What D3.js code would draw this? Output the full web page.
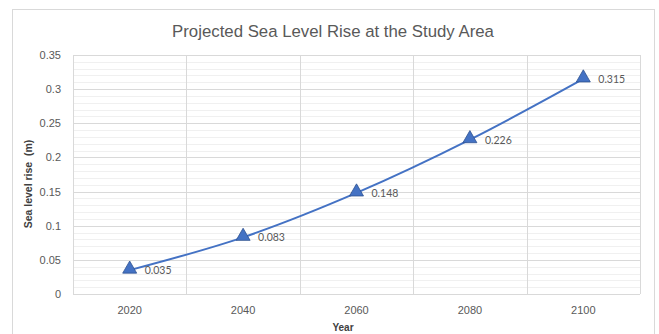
<!DOCTYPE html>
<html>
<head>
<meta charset="utf-8">
<script src="https://cdn.jsdelivr.net/npm/d3@7"></script>
<style>
  html, body { margin: 0; padding: 0; background: #fff; }
  svg { display: block; }
</style>
</head>
<body>
<svg id="chart" width="659" height="334"></svg>
<script>
// Projected sea level rise by year (metres)
const years = ["2020", "2040", "2060", "2080", "2100"];
const seaLevelRise = [0.035, 0.083, 0.148, 0.226, 0.315];
const yTicks = [0, 0.05, 0.1, 0.15, 0.2, 0.25, 0.3, 0.35];
const yMinorTicks = d3.range(0, 0.3501, 0.01);

const svg = d3.select("#chart");
const W = 659, H = 334;
const margin = { left: 73, right: 19, top: 55, bottom: 40 };
const plotW = W - margin.left - margin.right;
const plotH = H - margin.top - margin.bottom;

// Chart frame
svg.append("rect")
  .attr("x", 12.5).attr("y", 9.5)
  .attr("width", 642).attr("height", 340)
  .attr("fill", "#fff").attr("stroke", "#d9d9d9").attr("stroke-width", 1);

const x = d3.scaleBand().domain(years).range([margin.left, margin.left + plotW]);
const y = d3.scaleLinear().domain([0, 0.35]).range([margin.top + plotH, margin.top]);

const g = svg.append("g");

// Minor horizontal gridlines
g.selectAll("line.minor").data(yMinorTicks).enter().append("line")
  .attr("x1", margin.left).attr("x2", margin.left + plotW)
  .attr("y1", d => Math.round(y(d)) + 0.5).attr("y2", d => Math.round(y(d)) + 0.5)
  .attr("stroke", "#f0f0f0").attr("stroke-width", 1);

// Major horizontal gridlines
g.selectAll("line.major").data(yTicks).enter().append("line")
  .attr("x1", margin.left).attr("x2", margin.left + plotW)
  .attr("y1", d => Math.round(y(d)) + 0.5).attr("y2", d => Math.round(y(d)) + 0.5)
  .attr("stroke", "#d9d9d9").attr("stroke-width", 1);

// Vertical gridlines at category boundaries
const bounds = years.map(d => x(d)).concat([margin.left + plotW]);
g.selectAll("line.vert").data(bounds).enter().append("line")
  .attr("x1", d => Math.round(d) + 0.5).attr("x2", d => Math.round(d) + 0.5)
  .attr("y1", margin.top).attr("y2", margin.top + plotH)
  .attr("stroke", "#d9d9d9").attr("stroke-width", 1);

// Y axis
const yAxis = d3.axisLeft(y).tickValues(yTicks).tickSize(0).tickPadding(12)
  .tickFormat(d => d3.format("")(+d.toFixed(2)));
svg.append("g").attr("transform", `translate(${margin.left},0)`).call(yAxis)
  .call(s => s.select(".domain").remove())
  .selectAll("text").attr("font-family", "Liberation Sans, Arial, sans-serif")
  .attr("font-size", 11).attr("fill", "#595959");

// X axis
const xAxis = d3.axisBottom(x).tickSize(0).tickPadding(12);
svg.append("g").attr("transform", `translate(0,${margin.top + plotH})`).call(xAxis)
  .call(s => s.select(".domain").remove())
  .selectAll("text").attr("font-family", "Liberation Sans, Arial, sans-serif")
  .attr("font-size", 11).attr("fill", "#595959");

// Title
svg.append("text")
  .attr("x", 333).attr("y", 37)
  .attr("text-anchor", "middle")
  .attr("font-family", "Liberation Sans, Arial, sans-serif")
  .attr("font-size", 16.8).attr("fill", "#595959")
  .text("Projected Sea Level Rise at the Study Area");

// Axis titles
svg.append("text")
  .attr("transform", `translate(32,${184}) rotate(-90)`)
  .attr("text-anchor", "middle")
  .style("white-space", "pre")
  .attr("font-family", "Liberation Sans, Arial, sans-serif")
  .attr("font-size", 10.5).attr("font-weight", "bold").attr("fill", "#404040")
  .text("Sea level rise  (m)");

svg.append("text")
  .attr("x", 343).attr("y", 331)
  .attr("text-anchor", "middle")
  .attr("font-family", "Liberation Sans, Arial, sans-serif")
  .attr("font-size", 10).attr("font-weight", "bold").attr("fill", "#404040")
  .text("Year");

// Data
const data = years.map((yr, i) => ({ year: yr, value: seaLevelRise[i] }));
const cx = d => x(d.year) + x.bandwidth() / 2;

const line = d3.line().x(cx).y(d => y(d.value)).curve(d3.curveCatmullRom.alpha(0.5));
svg.append("path").datum(data)
  .attr("d", line)
  .attr("fill", "none").attr("stroke", "#4472C4").attr("stroke-width", 2);

const tri = d3.symbol().type(d3.symbolTriangle).size(85);
svg.selectAll("path.marker").data(data).enter().append("path")
  .attr("class", "marker")
  .attr("d", tri)
  .attr("transform", d => `translate(${cx(d)},${y(d.value) - 1})`)
  .attr("fill", "#4472C4").attr("stroke", "#2F528F").attr("stroke-width", 0.8);

// Data labels
svg.selectAll("text.label").data(data).enter().append("text")
  .attr("class", "label")
  .attr("x", d => cx(d) + 15).attr("y", d => y(d.value) + 4)
  .attr("font-family", "Lato, 'Open Sans', sans-serif")
  .attr("font-size", 10.5).attr("fill", "#595959")
  .text(d => d.value);
</script>
</body>
</html>
